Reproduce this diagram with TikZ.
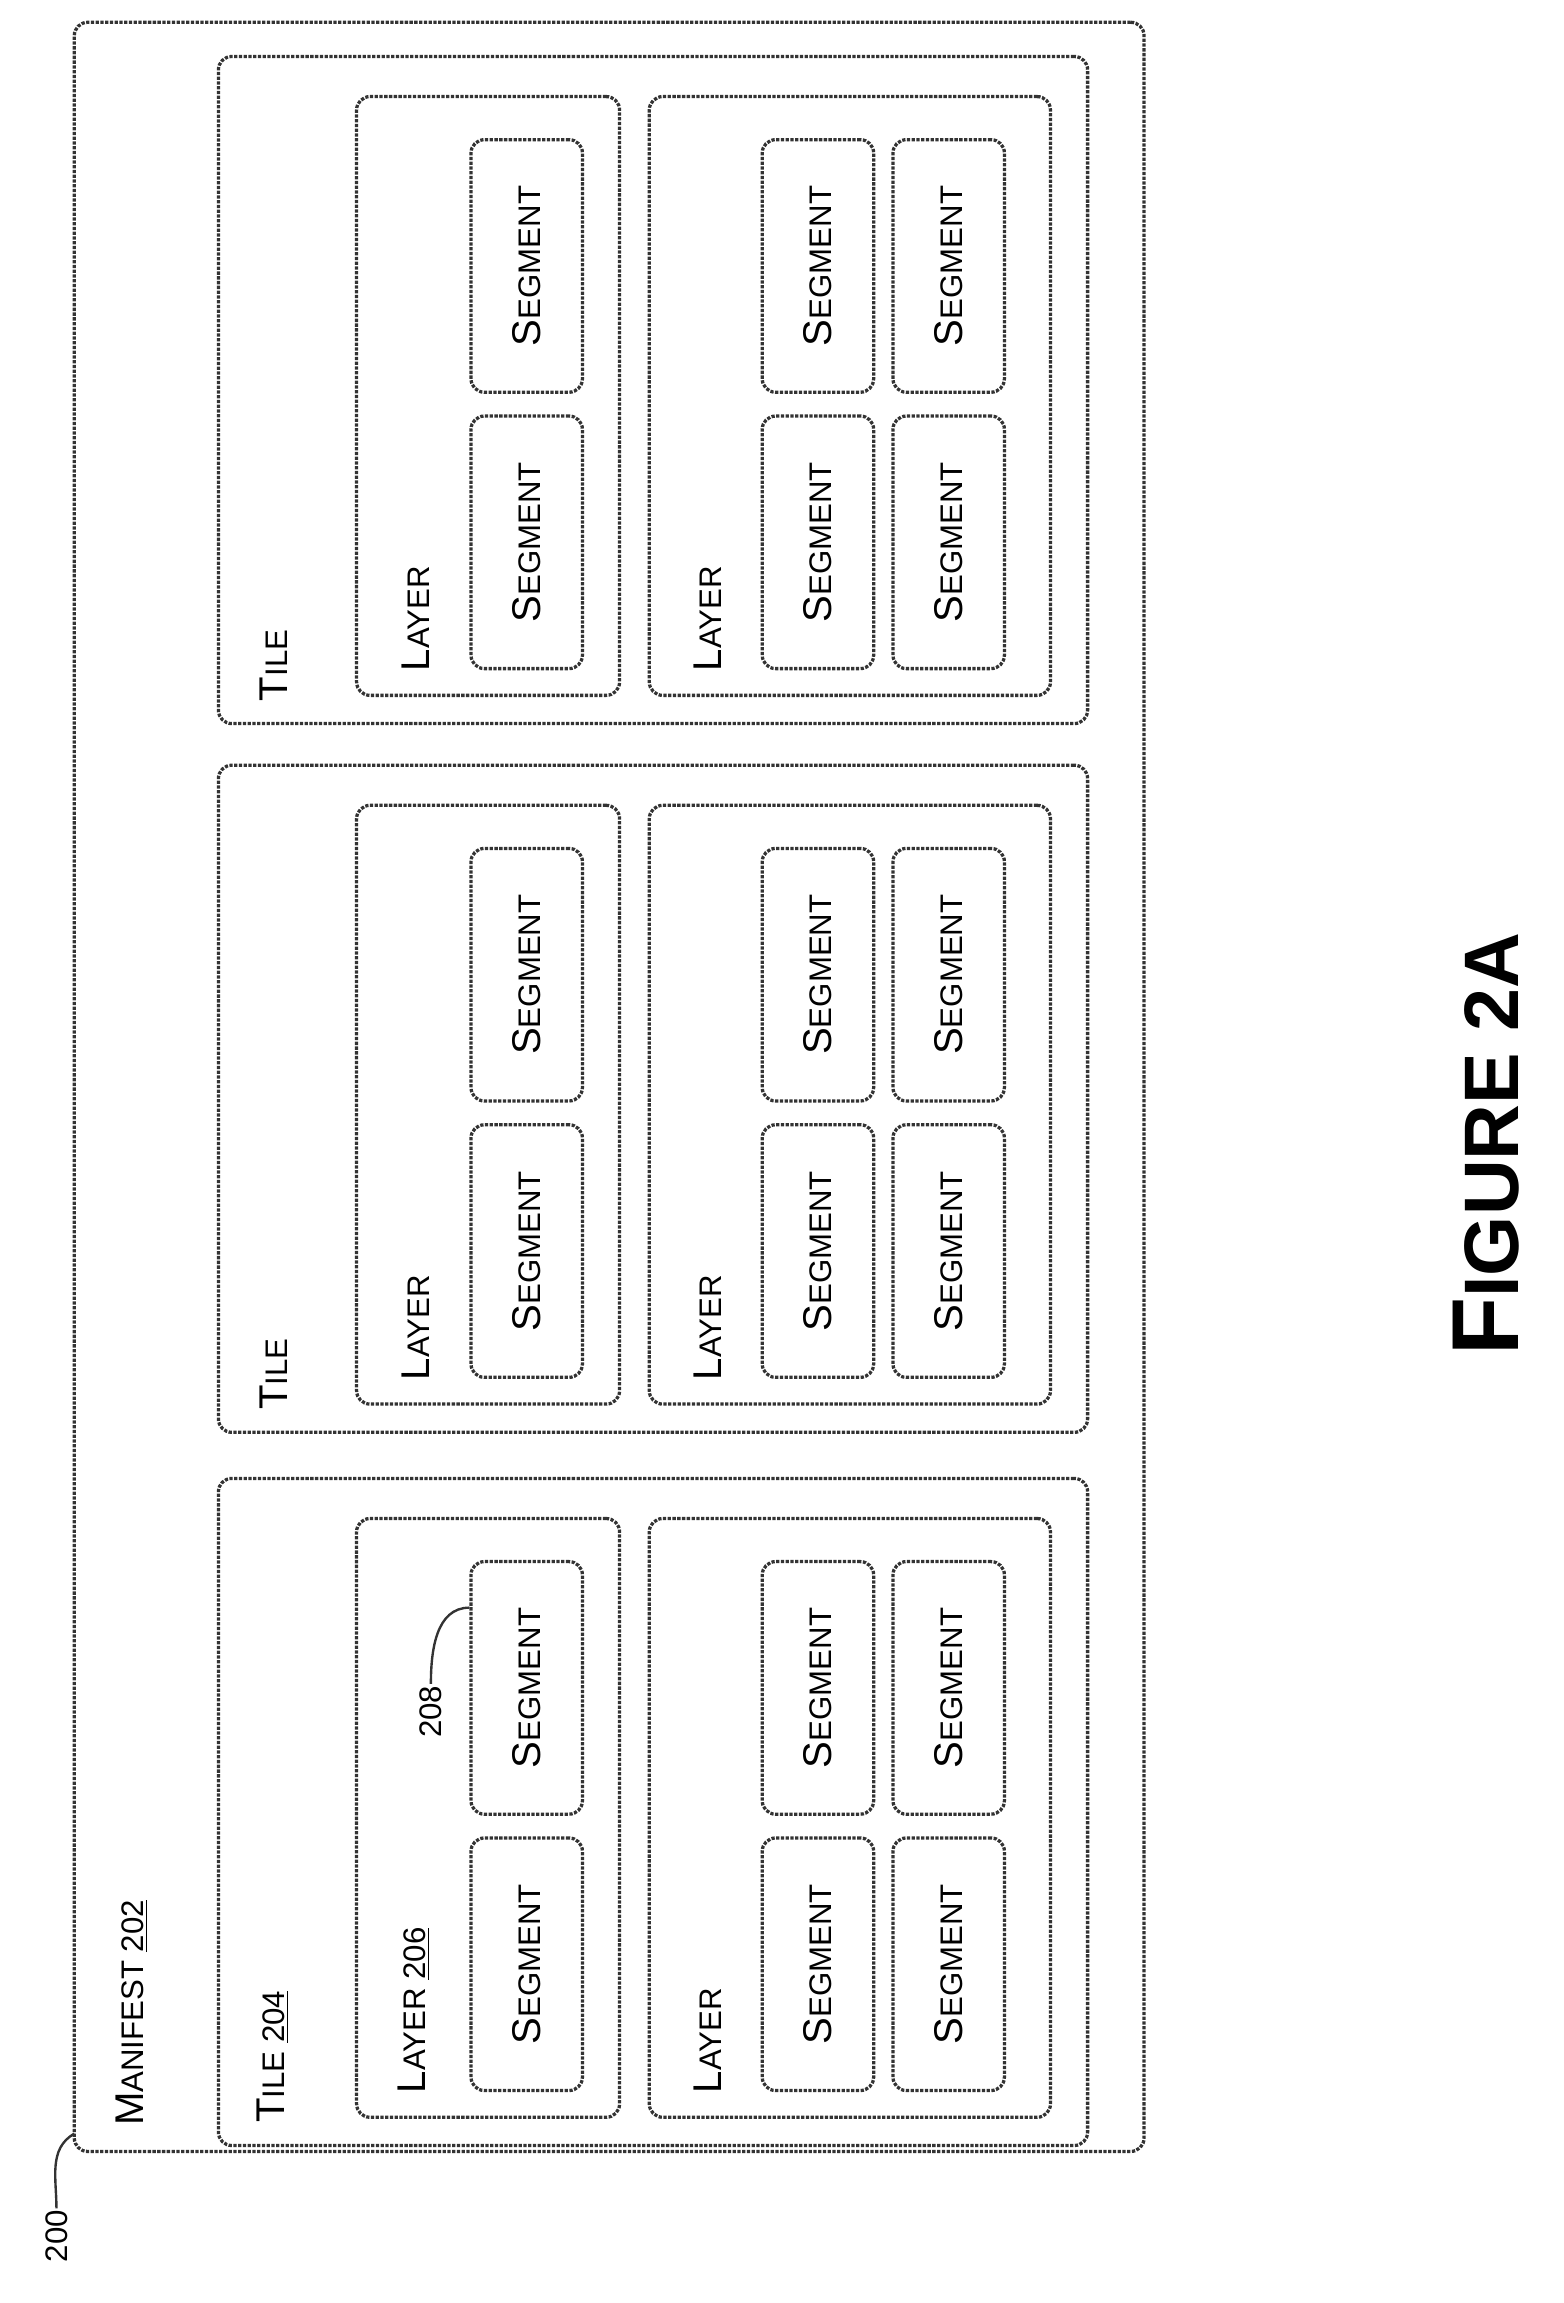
\documentclass[tikz,border=0pt]{standalone}
\usepackage{fontspec}
\setmainfont{Liberation Sans}
\usetikzlibrary{positioning}
\newcommand{\smcap}[2]{{\fontsize{27}{27}\selectfont #1}{\fontsize{21}{21}\selectfont #2}}
\begin{document}
\begin{tikzpicture}[x=1pt,y=-1pt,
    box/.style={draw=black!80,densely dotted,line width=2.2pt,rounded corners=9pt,inner sep=0pt},
    lbl/.style={rotate=90,inner sep=1pt,font=\fontsize{21}{21}\selectfont},
    seg/.style={box,minimum width=75pt,minimum height=170pt,
      label={[rotate=90]center:\smcap{S}{EGMENT}}}]
  \useasboundingbox (0,0) rectangle (1052,1550);
  \node (manifest) [box,minimum width=720pt,minimum height=1433pt] at (410,731.5) {};
  \node (mlabel) [lbl,anchor=south west] at (100,1432) {\smcap{M}{ANIFEST} \underline{202}};
  \node (n200) [lbl] at (38,1505) {200};
  \coordinate (m200) at (50,1436);
  \draw[line width=1.6pt,black!80] (n200.east) to[out=90,in=-150] (m200);
  \foreach \t/\oy in {1/0,2/-480,3/-957} {
    \node (tile\t) [box,minimum width=585pt,minimum height=449pt] at (439.5,1219.5+\oy) {};
    \node (layerA\t) [box,minimum width=177pt,minimum height=403pt] at (328.5,1223.5+\oy) {};
    \node (layerB\t) [box,minimum width=270pt,minimum height=403pt] at (572,1223.5+\oy) {};
    \foreach \r/\sy in {1/1322,2/1136} {
      \node (segA\t\r) [seg] at (354.5,\sy+\oy) {};
      \node (segB\t\r) [seg] at (550.5,\sy+\oy) {};
      \node (segC\t\r) [seg] at (638.5,\sy+\oy) {};
    }
    \node (llabelB\t) [lbl,anchor=south west] at (487,1410+\oy) {\smcap{L}{AYER}};
  }
  \node (tlabel1) [lbl,anchor=south west] at (195,1430) {\smcap{T}{ILE} \underline{204}};
  \node (tlabel2) [lbl,anchor=south west] at (195,950) {\smcap{T}{ILE}};
  \node (tlabel3) [lbl,anchor=south west] at (195,473) {\smcap{T}{ILE}};
  \node (llabelA1) [lbl,anchor=south west] at (290,1410) {\smcap{L}{AYER} \underline{206}};
  \node (llabelA2) [lbl,anchor=south west] at (290,930) {\smcap{L}{AYER}};
  \node (llabelA3) [lbl,anchor=south west] at (290,453) {\smcap{L}{AYER}};
  \node (n208) [lbl] at (290,1152) {208};
  \draw[line width=1.6pt,black!80] (n208.east) to[out=90,in=180] (segA12.west |- 0,1082);
  \node (fig) [rotate=90,font=\bfseries] at (1000,770)
    {{\fontsize{64}{64}\selectfont F}{\fontsize{52}{52}\selectfont IGURE 2A}};
\end{tikzpicture}
\end{document}
